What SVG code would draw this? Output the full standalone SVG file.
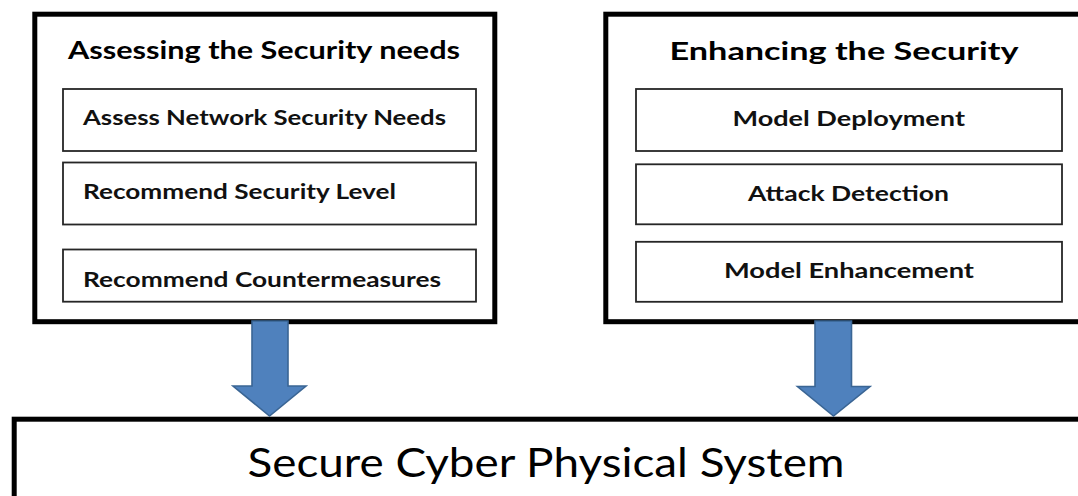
<svg xmlns="http://www.w3.org/2000/svg" width="1078" height="496" viewBox="0 0 1078 496">
  <style>
    .outer { fill: #ffffff; stroke: #000000; stroke-width: 5; }
    .inner { fill: #ffffff; stroke: #262626; stroke-width: 1.8; }
    .title { font-family: Lato, "Liberation Sans", sans-serif; font-weight: bold; font-size: 24px; fill: #000000; }
    .item { font-family: Lato, "Liberation Sans", sans-serif; font-weight: bold; font-size: 20px; fill: #111111; }
    .main { font-family: Lato, "Liberation Sans", sans-serif; font-size: 41px; fill: #000000; }
    .arrow { fill: #4F81BD; stroke: #3A6594; stroke-width: 1.6; stroke-linejoin: miter; }
  </style>
  <rect width="1078" height="496" fill="#ffffff"/>

  <!-- Left panel: assessing the security needs -->
  <g id="assess">
    <rect class="outer" x="34.8" y="14.2" width="460" height="307.5"/>
    <text class="title" x="68" y="58.5" textLength="392" lengthAdjust="spacingAndGlyphs">Assessing the Security needs</text>
    <g id="assess-needs">
      <rect class="inner" x="63" y="89" width="413" height="62"/>
      <text class="item" x="83" y="124.5" textLength="363" lengthAdjust="spacingAndGlyphs">Assess Network Security Needs</text>
    </g>
    <g id="security-level">
      <rect class="inner" x="63" y="162.5" width="413" height="62"/>
      <text class="item" x="83" y="199.3" textLength="313" lengthAdjust="spacingAndGlyphs">Recommend Security Level</text>
    </g>
    <g id="countermeasures">
      <rect class="inner" x="63" y="249.5" width="413" height="52.2"/>
      <text class="item" x="83" y="286.5" textLength="358" lengthAdjust="spacingAndGlyphs">Recommend Countermeasures</text>
    </g>
  </g>

  <!-- Right panel: enhancing the security -->
  <g id="enhance">
    <rect class="outer" x="605.8" y="14.2" width="490" height="307.5"/>
    <text class="title" x="669.5" y="60" textLength="349" lengthAdjust="spacingAndGlyphs">Enhancing the Security</text>
    <g id="deployment">
      <rect class="inner" x="636" y="89" width="426" height="62"/>
      <text class="item" x="732.5" y="125.5" textLength="232.5" lengthAdjust="spacingAndGlyphs">Model Deployment</text>
    </g>
    <g id="detection">
      <rect class="inner" x="636" y="164.3" width="426" height="60"/>
      <text class="item" x="748" y="201" textLength="201" lengthAdjust="spacingAndGlyphs">Attack Detection</text>
    </g>
    <g id="enhancement">
      <rect class="inner" x="636" y="241.8" width="426" height="60"/>
      <text class="item" x="724" y="278.3" textLength="250" lengthAdjust="spacingAndGlyphs">Model Enhancement</text>
    </g>
  </g>

  <!-- Bottom block: the resulting system -->
  <g id="system">
    <rect class="outer" x="14.2" y="419.2" width="1080" height="100"/>
    <text class="main" x="247.5" y="476.5" textLength="597" lengthAdjust="spacingAndGlyphs">Secure Cyber Physical System</text>
  </g>

  <!-- Block arrows feeding the system -->
  <g id="connectors">
    <path class="arrow" d="M252 321 H288 V386 H306 L269.5 416 L233 386 H252 Z"/>
    <path class="arrow" d="M815 321 H851.5 V386.5 H870 L833.5 416 L797.5 386.5 H815 Z"/>
  </g>
</svg>
